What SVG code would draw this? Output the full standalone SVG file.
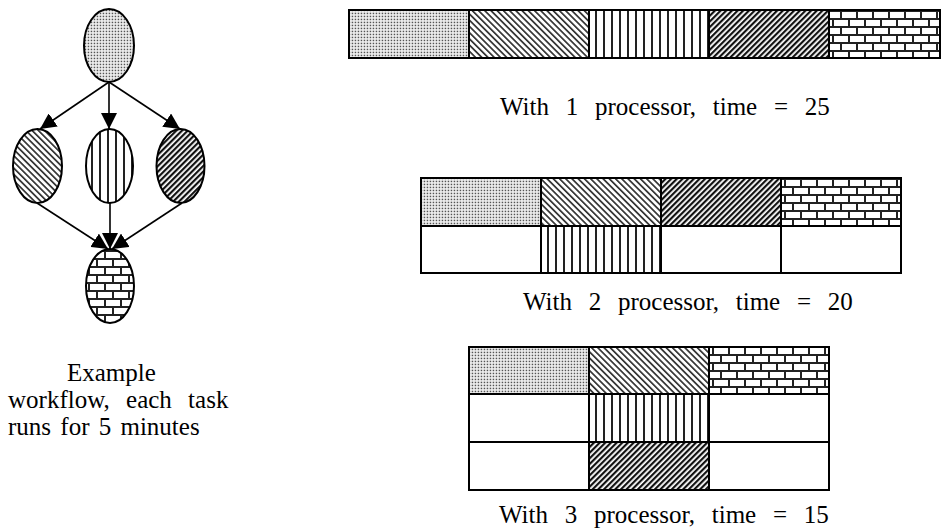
<svg xmlns="http://www.w3.org/2000/svg" width="942" height="529" viewBox="0 0 942 529">
  <style>
    .node { stroke: #000; stroke-width: 2; }
    .cell { stroke: #000; stroke-width: 2; }
    .edge { stroke: #000; stroke-width: 1.6; fill: none; marker-end: url(#arrow); }
    .label { font-family: "Liberation Serif", "Times New Roman", serif; font-size: 25px; fill: #000; }
    .cap { word-spacing: 10.5px; }
  </style>
  <defs>
    <marker id="arrow" markerUnits="userSpaceOnUse" markerWidth="16" markerHeight="16" refX="16" refY="8" orient="auto" viewBox="0 0 16 16">
      <path d="M0,0 L16,8 L0,16 z" fill="#000"/>
    </marker>
    <!-- fine dotted fill -->
    <pattern id="dots" patternUnits="userSpaceOnUse" width="3" height="3">
      <rect width="3" height="3" fill="#f2f2f2"/>
      <rect x="0.7" y="0.7" width="1.5" height="1.5" fill="#555"/>
    </pattern>
    <!-- wide downward diagonal -->
    <pattern id="diagDown" patternUnits="userSpaceOnUse" width="4.4" height="4.4" patternTransform="rotate(-45)">
      <rect width="4.4" height="4.4" fill="#fff"/>
      <rect width="1.7" height="4.4" fill="#333"/>
    </pattern>
    <!-- dark upward diagonal -->
    <pattern id="diagUp" patternUnits="userSpaceOnUse" width="4" height="4" patternTransform="rotate(45)">
      <rect width="4" height="4" fill="#fff"/>
      <rect width="2.2" height="4" fill="#111"/>
    </pattern>
    <!-- vertical stripes -->
    <pattern id="vert" patternUnits="userSpaceOnUse" width="8" height="8">
      <rect width="8" height="8" fill="#fff"/>
      <rect x="3" width="2" height="8" fill="#222"/>
    </pattern>
    <!-- brick -->
    <pattern id="brick" patternUnits="userSpaceOnUse" width="16" height="16" x="0" y="2">
      <rect width="16" height="16" fill="#fff"/>
      <rect y="0" width="16" height="2" fill="#222"/>
      <rect y="8" width="16" height="2" fill="#222"/>
      <rect x="0" y="0" width="2" height="8" fill="#222"/>
      <rect x="8" y="8" width="2" height="8" fill="#222"/>
    </pattern>
  </defs>

  <!-- workflow graph -->
  <g id="edges">
    <line class="edge" x1="109" y1="82" x2="40" y2="129"/>
    <line class="edge" x1="109" y1="82" x2="109" y2="129"/>
    <line class="edge" x1="109" y1="82" x2="180" y2="129"/>
    <line class="edge" x1="37" y1="203" x2="108" y2="249"/>
    <line class="edge" x1="110" y1="203" x2="110" y2="249"/>
    <line class="edge" x1="182" y1="203" x2="112" y2="249"/>
  </g>
  <g id="task-a"><ellipse class="node" cx="109" cy="45.5" rx="25" ry="36.5" fill="url(#dots)"/></g>
  <g id="task-b"><ellipse class="node" cx="37.5" cy="166" rx="24.5" ry="37" fill="url(#diagDown)"/></g>
  <g id="task-c"><ellipse class="node" cx="109.5" cy="166" rx="23.5" ry="37" fill="url(#vert)"/></g>
  <g id="task-d"><ellipse class="node" cx="180.5" cy="166" rx="24" ry="37" fill="url(#diagUp)"/></g>
  <g id="task-e"><ellipse class="node" cx="110" cy="286" rx="24" ry="37" fill="url(#brick)"/></g>

  <g id="caption-workflow">
    <text class="label" x="67" y="381">Example</text>
    <text class="label" x="8" y="408" word-spacing="10">workflow, each task</text>
    <text class="label" x="8" y="435" word-spacing="3">runs for 5 minutes</text>
  </g>

  <!-- schedule with 1 processor -->
  <g id="schedule-1">
    <rect class="cell" x="349" y="10" width="120" height="48" fill="url(#dots)"/>
    <rect class="cell" x="469" y="10" width="120" height="48" fill="url(#diagDown)"/>
    <rect class="cell" x="589" y="10" width="120" height="48" fill="url(#vert)"/>
    <rect class="cell" x="709" y="10" width="120" height="48" fill="url(#diagUp)"/>
    <rect class="cell" x="829" y="10" width="111" height="48" fill="url(#brick)"/>
    <text class="label cap" x="500" y="115">With 1 processor, time = 25</text>
  </g>

  <!-- schedule with 2 processors -->
  <g id="schedule-2">
    <rect class="cell" x="421" y="178" width="120" height="48" fill="url(#dots)"/>
    <rect class="cell" x="541" y="178" width="120" height="48" fill="url(#diagDown)"/>
    <rect class="cell" x="661" y="178" width="120" height="48" fill="url(#diagUp)"/>
    <rect class="cell" x="781" y="178" width="120" height="48" fill="url(#brick)"/>
    <rect class="cell" x="421" y="226" width="120" height="47" fill="#fff"/>
    <rect class="cell" x="541" y="226" width="120" height="47" fill="url(#vert)"/>
    <rect class="cell" x="661" y="226" width="120" height="47" fill="#fff"/>
    <rect class="cell" x="781" y="226" width="120" height="47" fill="#fff"/>
    <text class="label cap" x="523" y="310">With 2 processor, time = 20</text>
  </g>

  <!-- schedule with 3 processors -->
  <g id="schedule-3">
    <rect class="cell" x="469" y="347" width="120" height="47" fill="url(#dots)"/>
    <rect class="cell" x="589" y="347" width="120" height="47" fill="url(#diagDown)"/>
    <rect class="cell" x="709" y="347" width="120" height="47" fill="url(#brick)"/>
    <rect class="cell" x="469" y="394" width="120" height="48" fill="#fff"/>
    <rect class="cell" x="589" y="394" width="120" height="48" fill="url(#vert)"/>
    <rect class="cell" x="709" y="394" width="120" height="48" fill="#fff"/>
    <rect class="cell" x="469" y="442" width="120" height="48" fill="#fff"/>
    <rect class="cell" x="589" y="442" width="120" height="48" fill="url(#diagUp)"/>
    <rect class="cell" x="709" y="442" width="120" height="48" fill="#fff"/>
    <text class="label cap" x="499" y="523">With 3 processor, time = 15</text>
  </g>
</svg>
